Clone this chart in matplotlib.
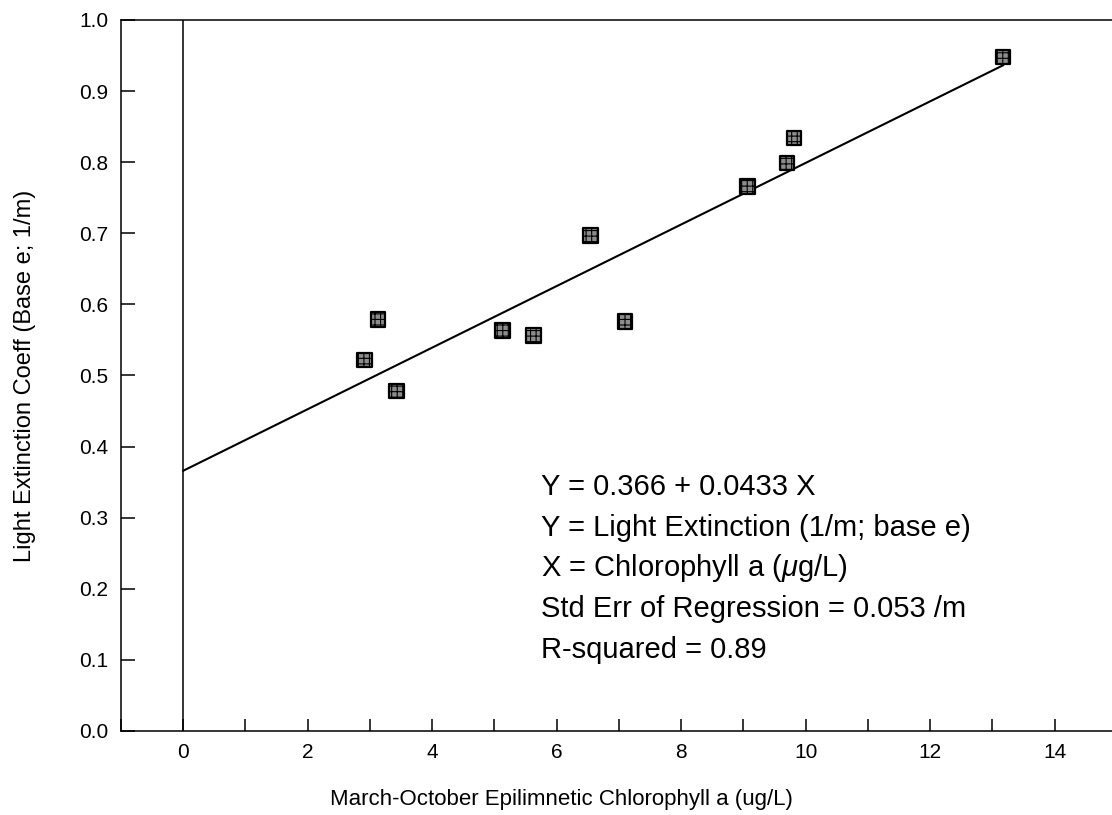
import numpy as np
import matplotlib
matplotlib.use("Agg")
import matplotlib.pyplot as plt
from matplotlib.ticker import MultipleLocator, FormatStrFormatter

plt.rcParams['font.family'] = ['Liberation Sans', 'DejaVu Sans']
plt.rcParams['mathtext.fontset'] = 'custom'
plt.rcParams['mathtext.rm'] = 'Liberation Sans'
plt.rcParams['mathtext.it'] = 'Liberation Sans:italic'
plt.rcParams['hatch.linewidth'] = 0.8

## Data
chl = [2.91, 3.13, 3.43, 5.13, 5.63, 6.54, 7.10, 9.06, 9.70, 9.81, 13.17]
ext = [0.522, 0.579, 0.478, 0.563, 0.556, 0.697, 0.576, 0.766, 0.799, 0.834, 0.948]
intercept = 0.366
slope = 0.0433
notes = [
    "Y = 0.366 + 0.0433 X",
    "Y = Light Extinction (1/m; base e)",
    r"X = Chlorophyll a ($\mu$g/L)",
    "Std Err of Regression = 0.053 /m",
    "R-squared = 0.89",
]

fig = plt.figure(figsize=(11.12, 8.15), dpi=100)
ax = fig.add_axes([0.1088, 0.1031, 0.8912, 0.8724])

##Regression line from 0 to the largest x
xs = np.array([0, max(chl)])
ax.plot(xs, intercept + slope * xs, color='black', lw=1.5, zorder=2)
ax.axvline(0, color='black', lw=1.1, zorder=1)

ax.scatter(chl, ext, marker='s', s=110, facecolor='#8c8c8c', edgecolor='black',
           linewidths=1.6, hatch='+++', zorder=3)

ax.set_xlim(-1, 14.92)
ax.set_ylim(0, 1.0)
ax.xaxis.set_major_locator(MultipleLocator(2))
ax.xaxis.set_minor_locator(MultipleLocator(1))
ax.yaxis.set_major_locator(MultipleLocator(0.1))
ax.yaxis.set_major_formatter(FormatStrFormatter('%.1f'))
ax.tick_params(which='both', direction='in', labelsize=15, width=1.1, top=False, right=False)
ax.tick_params(axis='y', length=10, pad=9)
ax.tick_params(axis='x', which='both', length=9, pad=9)

for side in ['left', 'top', 'bottom']:
    ax.spines[side].set_linewidth(1.1)
ax.spines['right'].set_visible(False)

ax.set_xlabel('March-October Epilimnetic Chlorophyll a (ug/L)', fontsize=16)
ax.xaxis.set_label_coords(0.444, -0.082)
ax.set_ylabel('Light Extinction Coeff (Base e; 1/m)', fontsize=17, labelpad=31)

for i, line in enumerate(notes):
    ax.text(5.74, 0.343 - i * 0.0572, line, fontsize=21, va='center', ha='left')

fig.savefig('out.png', dpi=100)
